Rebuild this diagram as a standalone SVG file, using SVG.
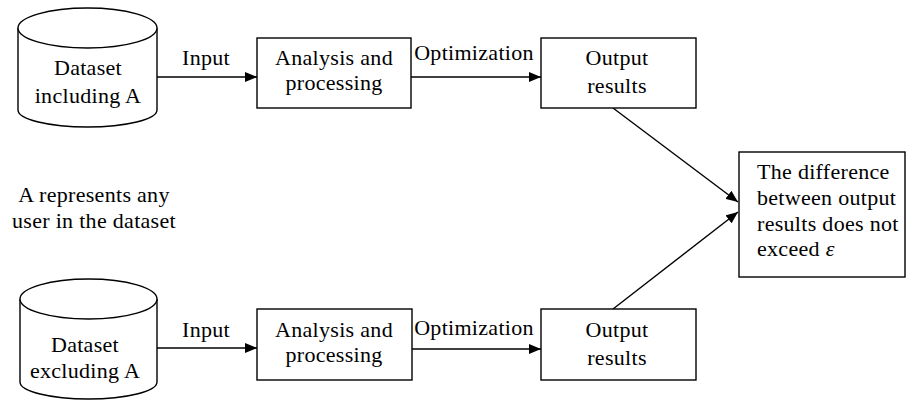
<svg xmlns="http://www.w3.org/2000/svg" width="907" height="401" viewBox="0 0 907 401">
  <style>
    .shape { fill: #ffffff; stroke: #000000; stroke-width: 1.4; }
    .edge { fill: none; stroke: #000000; stroke-width: 1.4; }
    text { font-family: "Liberation Serif", "Times New Roman", serif; font-size: 22px; letter-spacing: 0.3px; fill: #000000; }
    .c { text-anchor: middle; }
  </style>
  <defs>
    <marker id="arrow" markerUnits="userSpaceOnUse" markerWidth="13" markerHeight="10" refX="12" refY="5" orient="auto">
      <path d="M0,0 L12,5 L0,10 z" fill="#000000"/>
    </marker>
  </defs>

  <rect x="0" y="0" width="907" height="401" fill="#ffffff"/>

  <!-- connectors -->
  <g id="connectors">
    <line class="edge" x1="157" y1="77" x2="257" y2="77" marker-end="url(#arrow)"/>
    <line class="edge" x1="411" y1="77" x2="541" y2="77" marker-end="url(#arrow)"/>
    <line class="edge" x1="157" y1="348" x2="257" y2="348" marker-end="url(#arrow)"/>
    <line class="edge" x1="412" y1="349" x2="541" y2="349" marker-end="url(#arrow)"/>
    <line class="edge" x1="613" y1="108" x2="738" y2="202" marker-end="url(#arrow)"/>
    <line class="edge" x1="613" y1="309" x2="738" y2="212" marker-end="url(#arrow)"/>
    <text class="c" x="206" y="65">Input</text>
    <text class="c" x="474" y="60">Optimization</text>
    <text class="c" x="206" y="337">Input</text>
    <text class="c" x="474" y="335">Optimization</text>
  </g>

  <!-- upper pipeline -->
  <g id="dataset-including">
    <path class="shape" d="M18,28 V110 A69.5,17 0 0 0 157,110 V28"/>
    <ellipse class="shape" cx="87.5" cy="28" rx="69.5" ry="20"/>
    <text class="c" x="88" y="75">Dataset</text>
    <text class="c" x="88" y="103">including A</text>
  </g>
  <g id="analysis-top">
    <rect class="shape" x="257" y="38" width="154" height="70"/>
    <text class="c" x="334" y="65">Analysis and</text>
    <text class="c" x="334" y="90">processing</text>
  </g>
  <g id="output-top">
    <rect class="shape" x="541" y="38" width="155" height="70"/>
    <text class="c" x="617" y="65">Output</text>
    <text class="c" x="617" y="93">results</text>
  </g>

  <!-- note -->
  <g id="note">
    <text class="c" x="94" y="202">A represents any</text>
    <text class="c" x="94" y="228">user in the dataset</text>
  </g>

  <!-- result -->
  <g id="difference">
    <rect class="shape" x="739" y="152" width="166" height="125"/>
    <text x="757" y="179">The difference</text>
    <text x="757" y="205">between output</text>
    <text x="757" y="231">results does not</text>
    <text x="757" y="256">exceed <tspan font-style="italic">ε</tspan></text>
  </g>

  <!-- lower pipeline -->
  <g id="dataset-excluding">
    <path class="shape" d="M20,299 V382 A68.5,17 0 0 0 157,382 V299"/>
    <ellipse class="shape" cx="88.5" cy="299" rx="68.5" ry="20"/>
    <text class="c" x="85" y="352">Dataset</text>
    <text class="c" x="85" y="378">excluding A</text>
  </g>
  <g id="analysis-bottom">
    <rect class="shape" x="257" y="309" width="155" height="71"/>
    <text class="c" x="334" y="337">Analysis and</text>
    <text class="c" x="334" y="362">processing</text>
  </g>
  <g id="output-bottom">
    <rect class="shape" x="541" y="309" width="155" height="71"/>
    <text class="c" x="617" y="337">Output</text>
    <text class="c" x="617" y="365">results</text>
  </g>
</svg>
